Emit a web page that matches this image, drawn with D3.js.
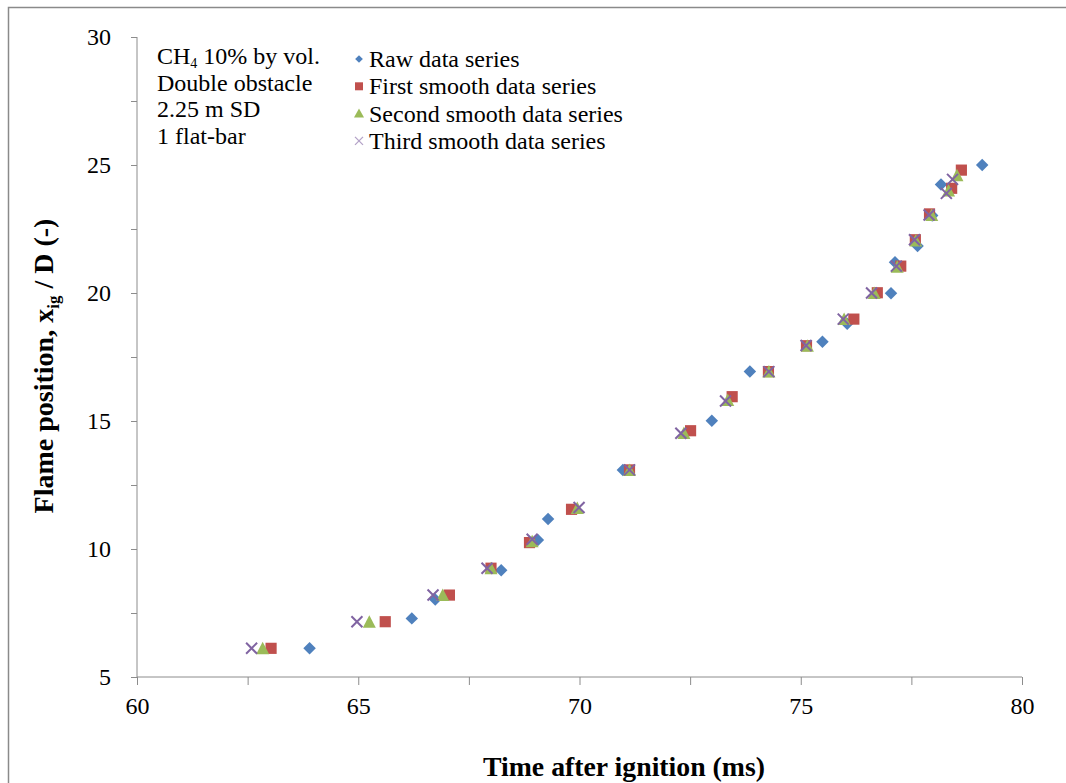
<!DOCTYPE html>
<html>
<head>
<meta charset="utf-8">
<script src="https://cdn.jsdelivr.net/npm/d3@7"></script>
<style>
  html, body { margin: 0; padding: 0; background: #fff; }
  svg { display: block; }
  svg text { font-family: "Liberation Serif", "Times New Roman", serif !important; fill: #000; }
</style>
</head>
<body>
<svg id="chart" width="1066" height="783"></svg>
<script>
// ---- Data ----
const rawX = [63.90, 66.21, 66.74, 68.23, 69.06, 69.29, 70.98, 72.99, 73.85, 75.49, 76.05, 77.04, 77.13, 77.64, 77.97, 78.17, 79.10];
const rawY = [6.12, 7.29, 8.03, 9.17, 10.35, 11.17, 13.09, 15.01, 16.93, 18.10, 18.80, 19.99, 21.20, 21.84, 23.03, 24.24, 25.00];

const firstX = [63.03, 65.61, 67.06, 68.00, 68.87, 69.82, 71.13, 72.51, 73.45, 74.27, 75.13, 76.20, 76.73, 77.26, 77.59, 77.91, 78.41, 78.63];
const firstY = [6.12, 7.16, 8.20, 9.25, 10.25, 11.55, 13.09, 14.62, 15.95, 16.93, 17.94, 18.98, 20.01, 21.05, 22.08, 23.09, 24.09, 24.80];

const secondX = [62.84, 65.25, 66.91, 68.00, 68.93, 69.95, 71.13, 72.36, 73.35, 74.28, 75.15, 75.98, 76.66, 77.18, 77.60, 77.96, 78.34, 78.53];
const secondY = [6.12, 7.16, 8.20, 9.25, 10.30, 11.60, 13.09, 14.53, 15.82, 16.93, 17.94, 18.98, 20.00, 21.03, 22.05, 23.05, 24.00, 24.60];

const thirdX = [62.59, 64.97, 66.69, 67.91, 68.93, 69.99, 71.13, 72.29, 73.30, 74.28, 75.12, 75.96, 76.60, 77.16, 77.57, 77.90, 78.29, 78.43];
const thirdY = [6.12, 7.16, 8.20, 9.25, 10.38, 11.62, 13.09, 14.52, 15.78, 16.93, 17.95, 18.98, 20.00, 21.05, 22.08, 23.05, 23.89, 24.44];

const seriesNames = ["Raw data series", "First smooth data series", "Second smooth data series", "Third smooth data series"];
const seriesColors = ["#4F81BD", "#C0504D", "#9BBB59", "#8064A2"];
const seriesShapes = ["diamond", "square", "triangle", "cross"];

const xTicks = [60, 62.5, 65, 67.5, 70, 72.5, 75, 77.5, 80];
const yTicks = [5, 7.5, 10, 12.5, 15, 17.5, 20, 22.5, 25, 27.5, 30];

const noteLines = ["CH4 10% by vol.", "Double obstacle", "2.25 m SD", "1 flat-bar"];

// ---- Layout ----
const FONT = "'Liberation Serif', 'Times New Roman', serif";
const svg = d3.select("#chart");
const x = d3.scaleLinear().domain([60, 80]).range([137, 1022]);
const y = d3.scaleLinear().domain([5, 30]).range([677, 37]);
const axisColor = "#8c8c8c";

// outer frame
svg.append("rect").attr("x", 8.5).attr("y", 7.5).attr("width", 1070).attr("height", 800)
  .attr("fill", "none").attr("stroke", "#8a8a8a").attr("stroke-width", 1.5);

// x axis
const xAxis = d3.axisBottom(x).tickValues(xTicks).tickSize(8).tickPadding(12)
  .tickFormat(d => d % 5 === 0 ? d3.format("d")(d) : "");
const gx = svg.append("g").attr("transform", `translate(0,${y(5)})`).call(xAxis)
  .attr("font-family", null).attr("font-size", null);
gx.selectAll("path, line").attr("stroke", axisColor);
gx.select(".domain").attr("d", `M${x(60)},0H${x(80)}`);
gx.selectAll("text").style("font-family", FONT).style("font-size", "24px").attr("fill", "#000");

// y axis
const yAxis = d3.axisLeft(y).tickValues(yTicks).tickSize(6).tickPadding(20)
  .tickFormat(d => d % 5 === 0 ? d3.format("d")(d) : "");
const gy = svg.append("g").attr("transform", `translate(${x(60)},0)`).call(yAxis)
  .attr("font-family", null).attr("font-size", null);
gy.selectAll("path, line").attr("stroke", axisColor);
gy.select(".domain").attr("d", `M0,${y(5)}V${y(30)}`);
gy.selectAll("text").style("font-family", FONT).style("font-size", "24px").attr("fill", "#000");

// axis titles
svg.append("text").attr("x", 624).attr("y", 776).attr("text-anchor", "middle")
  .style("font-family", FONT).style("font-size", "27px").attr("font-weight", "bold")
  .attr("textLength", 282).attr("lengthAdjust", "spacingAndGlyphs")
  .text("Time after ignition (ms)");

const yt = svg.append("text").attr("transform", `translate(53,366) rotate(-90)`)
  .attr("text-anchor", "middle").style("font-family", FONT).style("font-size", "28px").attr("font-weight", "bold");
yt.append("tspan").text("Flame position, x");
yt.append("tspan").style("font-size", "17px").attr("dy", 6).text("ig");
yt.append("tspan").attr("dy", -6).text(" / D (-)");

// marker drawing
function drawMarker(g, shape, color, cx, cy) {
  if (shape === "diamond") {
    g.append("path").attr("d", d3.symbol(d3.symbolSquare, 78)())
      .attr("transform", `translate(${cx},${cy}) rotate(45)`).attr("fill", color);
  } else if (shape === "square") {
    g.append("path").attr("d", d3.symbol(d3.symbolSquare, 125)())
      .attr("transform", `translate(${cx},${cy})`).attr("fill", color);
  } else if (shape === "triangle") {
    g.append("path").attr("d", "M0,-6.5L6.5,6L-6.5,6Z")
      .attr("transform", `translate(${cx},${cy})`).attr("fill", color);
  } else {
    g.append("path").attr("d", "M-5.5,-5.5L5.5,5.5M-5.5,5.5L5.5,-5.5")
      .attr("transform", `translate(${cx},${cy})`).attr("fill", "none")
      .attr("stroke", color).attr("stroke-width", 2);
  }
}

const allX = [rawX, firstX, secondX, thirdX];
const allY = [rawY, firstY, secondY, thirdY];
allX.forEach((xs, s) => {
  const g = svg.append("g").attr("class", "series-" + s);
  xs.forEach((xv, i) => drawMarker(g, seriesShapes[s], seriesColors[s], x(xv), y(allY[s][i])));
});

// annotation
const noteG = svg.append("g");
noteLines.forEach((line, i) => {
  const t = noteG.append("text").attr("x", 157).attr("y", 64 + i * 26.5)
    .style("font-family", FONT).style("font-size", "24px");
  if (line.startsWith("CH4")) {
    t.append("tspan").text("CH");
    t.append("tspan").style("font-size", "14px").attr("dy", 4).text("4");
    t.append("tspan").attr("dy", -4).text(line.slice(3));
  } else {
    t.text(line);
  }
});

// legend
const legG = svg.append("g");
seriesNames.forEach((name, i) => {
  const cy = 59 + i * 27.3;
  const mg = legG.append("g");
  if (seriesShapes[i] === "diamond") {
    mg.append("path").attr("d", d3.symbol(d3.symbolSquare, 30)())
      .attr("transform", `translate(359,${cy}) rotate(45)`).attr("fill", seriesColors[i]);
  } else if (seriesShapes[i] === "square") {
    mg.append("path").attr("d", d3.symbol(d3.symbolSquare, 64)())
      .attr("transform", `translate(359,${cy})`).attr("fill", seriesColors[i]);
  } else if (seriesShapes[i] === "triangle") {
    mg.append("path").attr("d", "M0,-5L5,4L-5,4Z")
      .attr("transform", `translate(359,${cy})`).attr("fill", seriesColors[i]);
  } else {
    mg.append("path").attr("d", "M-4,-4L4,4M-4,4L4,-4")
      .attr("transform", `translate(359,${cy})`).attr("fill", "none")
      .attr("stroke", "#b3a2c7").attr("stroke-width", 1.3);
  }
  legG.append("text").attr("x", 369).attr("y", cy + 8)
    .style("font-family", FONT).style("font-size", "24px").text(name);
});
</script>
</body>
</html>
